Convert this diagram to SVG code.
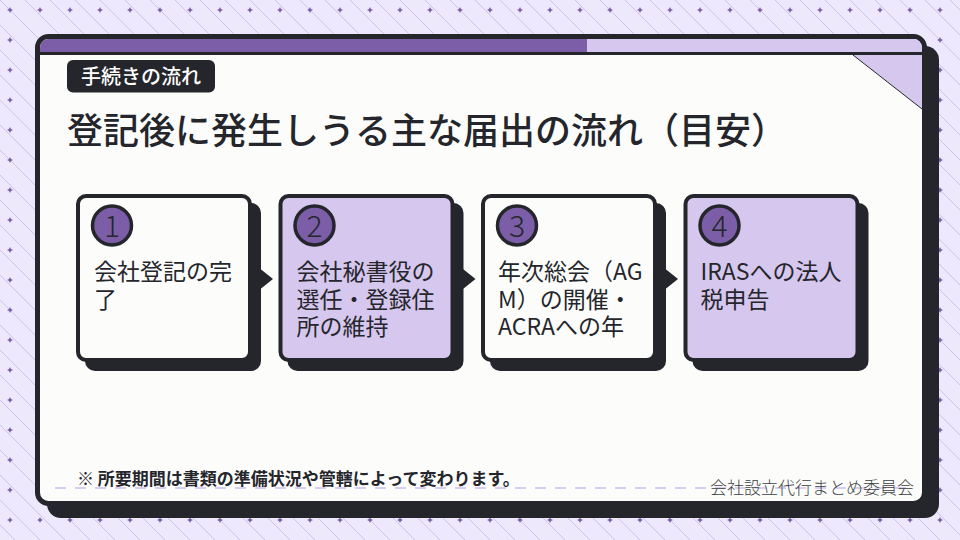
<svg xmlns="http://www.w3.org/2000/svg" width="960" height="540" viewBox="0 0 960 540">
<defs>
<pattern id="diag" patternUnits="userSpaceOnUse" width="25" height="25">
<path d="M-5,-5 L30,30 M-5,20 L5,30 M20,-5 L30,5" stroke="#CDC2EC" stroke-width="1" fill="none"/>
</pattern>
<pattern id="dots" patternUnits="userSpaceOnUse" width="30" height="30">
<path d="M10,7 L11,9 L13,10 L11,11 L10,13 L9,11 L7,10 L9,9 Z" fill="#7B5EA7"/>
</pattern>
<clipPath id="cardClip">
<rect x="40" y="39" width="882" height="462" rx="8.5"/>
</clipPath>
</defs>
<style>
.t{font-family:"Noto Sans CJK JP","Noto Sans",sans-serif;fill:#25262C}
.shadow{fill:#25262C}
.box{stroke:#25262C;stroke-width:4}
.w{fill:#FCFDFB}
.l{fill:#D6C7EE}
.num{fill:#7B5EA7;stroke:#25262C;stroke-width:3.5}
.digit{font-size:30px;font-weight:300;text-anchor:middle}
.bt{font-size:23px;font-weight:400}
.arrow{fill:#25262C}
</style>
<rect x="0" y="0" width="960" height="540" fill="#EDE8FB"/>
<rect x="0" y="0" width="960" height="540" fill="url(#diag)"/>
<rect x="0" y="0" width="960" height="540" fill="url(#dots)"/>

<g id="card">
<rect x="47" y="46" width="892" height="472" rx="14" fill="#25262C"/>
<rect x="37.5" y="36.5" width="887" height="467" rx="11" fill="#FCFDFB" stroke="#25262C" stroke-width="5"/>
<g clip-path="url(#cardClip)">
<rect x="40" y="39" width="547" height="13" fill="#7B5EA7"/>
<rect x="587" y="39" width="335" height="13" fill="#D6C7EE"/>
<rect x="40" y="52" width="882" height="3" fill="#25262C"/>
<polygon points="853,55 922,55 922,109" fill="#D6C7EE"/>
<line x1="853" y1="55" x2="922" y2="109" stroke="#25262C" stroke-width="1"/>
</g>
</g>

<g id="tag">
<rect x="67" y="60" width="148" height="32.5" rx="6" fill="#25262C"/>
<text class="t" x="141" y="83.5" font-size="20" font-weight="500" text-anchor="middle" style="fill:#FFFFFF">手続きの流れ</text>
</g>

<g id="title">
<text class="t" x="67" y="144" font-size="36" font-weight="500">登記後に発生しうる主な届出の流れ（目安）</text>
</g>

<g id="connectors">
<polygon class="arrow" points="258,267 273,279 258,291"/>
<polygon class="arrow" points="460.5,267 475.5,279 460.5,291"/>
<polygon class="arrow" points="663,267 678,279 663,291"/>
</g>

<g id="step1">
<rect class="shadow" x="85" y="203" width="176" height="168" rx="10"/>
<rect class="box w" x="78" y="196" width="172" height="164" rx="8"/>
<circle class="num" cx="112" cy="225.5" r="19.5"/>
<text class="t digit" x="112" y="236.5">1</text>
<text class="t bt" x="94"><tspan x="94" y="280">会社登記の完</tspan><tspan x="94" y="307.5">了</tspan></text>
</g>

<g id="step2">
<rect class="shadow" x="287.5" y="203" width="176" height="168" rx="10"/>
<rect class="box l" x="280.5" y="196" width="172" height="164" rx="8"/>
<circle class="num" cx="314.5" cy="225.5" r="19.5"/>
<text class="t digit" x="314.5" y="236.5">2</text>
<text class="t bt"><tspan x="296.5" y="280">会社秘書役の</tspan><tspan x="296.5" y="307.5">選任・登録住</tspan><tspan x="296.5" y="335">所の維持</tspan></text>
</g>

<g id="step3">
<rect class="shadow" x="490" y="203" width="176" height="168" rx="10"/>
<rect class="box w" x="483" y="196" width="172" height="164" rx="8"/>
<circle class="num" cx="517" cy="225.5" r="19.5"/>
<text class="t digit" x="517" y="236.5">3</text>
<text class="t bt"><tspan x="498" y="280">年次総会（AG</tspan><tspan x="498" y="307.5">M）の開催・</tspan><tspan x="498" y="335">ACRAへの年</tspan></text>
</g>

<g id="step4">
<rect class="shadow" x="692.5" y="203" width="176" height="168" rx="10"/>
<rect class="box l" x="685.5" y="196" width="172" height="164" rx="8"/>
<circle class="num" cx="719.5" cy="225.5" r="19.5"/>
<text class="t digit" x="719.5" y="236.5">4</text>
<text class="t bt"><tspan x="700.5" y="280">IRASへの法人</tspan><tspan x="700.5" y="307.5">税申告</tspan></text>
</g>

<g id="footer">
<line x1="55" y1="488" x2="912" y2="488" stroke="#CDBFEE" stroke-width="1.5" stroke-dasharray="11 9"/>
<text class="t" x="77" y="484.5" font-size="17" font-weight="700">※ 所要期間は書類の準備状況や管轄によって変わります。</text>
<text class="t" x="914" y="493.5" font-size="17" font-weight="300" text-anchor="end" style="fill:#3C3D42">会社設立代行まとめ委員会</text>
</g>
</svg>
